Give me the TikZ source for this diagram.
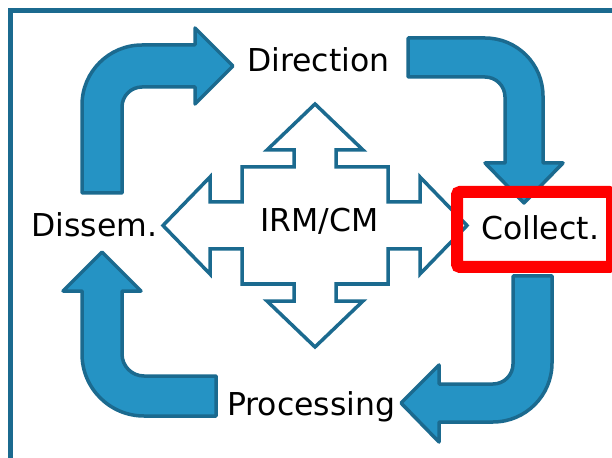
\documentclass[tikz,border=0pt]{standalone}
\usepackage{fontspec}
\setmainfont{DejaVu Sans}
\definecolor{arrowfill}{HTML}{2593C4}
\definecolor{arrowline}{HTML}{1B6A8F}
\definecolor{framecol}{HTML}{1B6A8F}
\definecolor{boxred}{HTML}{FF0000}
\begin{document}
\begin{tikzpicture}[x=1bp,y=1bp,
  bluearrow/.style={fill=arrowfill, draw=arrowline, line width=3.5bp, line join=round},
  quadarrow/.style={fill=white, draw=arrowline, line width=3.5bp, line join=miter},
  lbl/.style={font=\fontsize{31.5bp}{38bp}\selectfont, inner sep=0pt, anchor=base west, text=black},
  framebox/.style={draw=framecol, line width=5bp},
  redframe/.style={draw=boxred, line width=12bp, rounded corners=3bp}]
\useasboundingbox (0,0) rectangle (612,-458);
\clip (0,0) rectangle (612,-458);
\fill[white] (0,0) rectangle (612,-458);
% outer frame (clipped at right and bottom)
\draw[framebox] (10.5,-10.5) rectangle (700,-700);

% top-left bent arrow: Dissem. -> Direction
\draw[bluearrow] (82,-193) -- (82,-105) arc[start angle=180, end angle=90, radius=60bp]
  -- (195,-45) -- (195,-28) -- (233,-66) -- (195,-104) -- (195,-87)
  -- (142,-87) arc[start angle=90, end angle=180, radius=20bp] -- (122,-193) -- cycle;

% top-right bent arrow: Direction -> Collect.
\draw[bluearrow] (408,-38) -- (485,-38) arc[start angle=90, end angle=0, radius=58bp]
  -- (543,-163) -- (563,-163) -- (524,-203) -- (485,-163) -- (505,-163)
  -- (505,-97) arc[start angle=0, end angle=90, radius=20bp] -- (408,-77) -- cycle;

% bottom-right bent arrow: Collect. -> Processing
\draw[bluearrow] (513,-276) -- (552,-276) -- (552,-363) arc[start angle=0, end angle=-90, radius=59bp]
  -- (439,-422) -- (439,-442) -- (401,-403) -- (439,-365) -- (439,-384)
  -- (493,-384) arc[start angle=-90, end angle=0, radius=20bp] -- cycle;

% bottom-left bent arrow: Processing -> Dissem.
\draw[bluearrow] (216,-376) -- (144,-376) arc[start angle=-90, end angle=-180, radius=22bp]
  -- (122,-291) -- (141,-291) -- (102,-252) -- (63,-291) -- (82,-291)
  -- (82,-354) arc[start angle=180, end angle=270, radius=62bp] -- (216,-416) -- cycle;

% central four-way arrow
\draw[quadarrow] (315,-104) -- (363,-150) -- (336,-150) -- (336,-167) -- (388,-167) -- (388,-202)
  -- (420,-202) -- (420,-177) -- (467,-225.5) -- (420,-274) -- (420,-249) -- (388,-249)
  -- (388,-284) -- (336,-284) -- (336,-301) -- (363,-301) -- (315,-347) -- (267,-301)
  -- (294,-301) -- (294,-284) -- (242,-284) -- (242,-249) -- (210,-249) -- (210,-274)
  -- (163,-225.5) -- (210,-177) -- (210,-202) -- (242,-202) -- (242,-167) -- (294,-167)
  -- (294,-150) -- (267,-150) -- cycle;

% red highlight box
\draw[redframe] (457,-192) rectangle (612,-267);

% labels
\node[lbl] (direction) at (247,-72) {Direction};
\node[lbl] (dissem) at (31,-237) {Dissem.};
\node[lbl] (irm) at (260,-232) {IRM/CM};
\node[lbl] (collect) at (481,-240) {Collect.};
\node[lbl] (processing) at (227,-415) {Processing};
\end{tikzpicture}
\end{document}
